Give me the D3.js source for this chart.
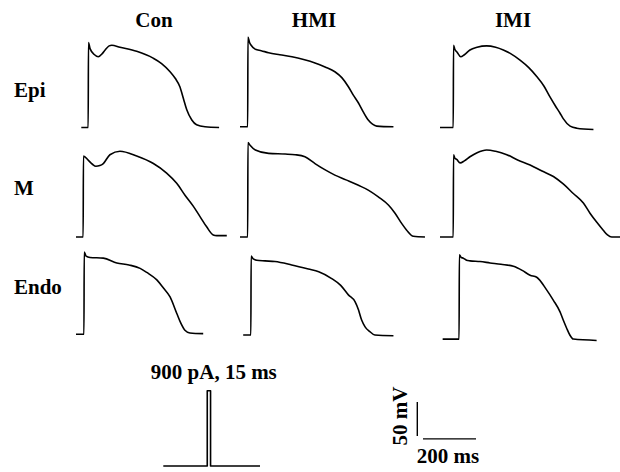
<!DOCTYPE html>
<html>
<head>
<meta charset="utf-8">
<script src="https://cdn.jsdelivr.net/npm/d3@7"></script>
<style>
  body { margin: 0; background: #fff; }
  svg { display: block; }
  text { font-family: "Liberation Serif", "DejaVu Serif", serif; font-weight: bold; font-size: 21px; fill: #000; }
  .trace { fill: none; stroke: #000; stroke-width: 1.6; stroke-linejoin: round; }
</style>
</head>
<body>
<svg id="chart" width="620" height="472"></svg>
<script>
// groups and cell layers
var groups = ["Con", "HMI", "IMI"];
var layers = ["Epi", "M", "Endo"];

// action potentials, [time ms, voltage mV]
var conEpi = [[20,-85],[46,-85],[47,40],[53,31],[70,22],[84,19],[100,24],[110,29],[125,35],[135,36],[166,33],[229,27],[291,17],[323,9],[355,-3],[375,-13],[392,-25],[405,-42],[418,-59],[437,-74],[455,-81],[487,-84],[540,-85]];
var conM = [[0,-85],[27,-85],[28,34],[46,28],[62,22],[75,19],[90,20],[103,23],[128,36],[166,41],[229,34],[292,23],[342,9],[380,-6],[412,-24],[443,-40],[468,-55],[493,-70],[518,-82],[531,-83],[569,-83]];
var conEndo = [[0,-84],[30,-84],[31,37],[38,31],[53,29],[103,28],[154,21],[200,18],[242,13],[267,7],[305,-4],[330,-16],[355,-29],[380,-53],[396,-68],[411,-78],[430,-82],[480,-83]];

var hmiEpi = [[0,-84],[29,-84],[30,48],[36,40],[42,36],[58,30],[80,28],[108,25],[150,22],[196,19],[240,15],[283,10],[321,4],[358,-3],[385,-12],[409,-25],[427,-37],[447,-49],[465,-62],[484,-74],[500,-80],[516,-83],[579,-84]];
var hmiM = [[0,-85],[29,-85],[30,54],[38,50],[58,43],[108,38],[170,37],[208,36],[245,33],[283,23],[320,14],[358,6],[400,-1],[447,-9],[484,-16],[522,-26],[560,-38],[585,-50],[610,-65],[629,-75],[654,-84],[698,-85]];
var hmiEndo = [[12,-85],[41,-85],[42,31],[50,27],[63,25],[94,24],[132,23],[195,18],[258,12],[297,8],[346,-2],[380,-12],[409,-26],[434,-36],[447,-48],[459,-63],[472,-73],[490,-80],[509,-85],[579,-86]];

var imiEpi = [[0,-85],[50,-85],[51,36],[56,30],[64,26],[78,19],[92,22],[113,29],[140,33],[176,35],[210,33],[239,29],[265,24],[302,14],[335,3],[365,-10],[392,-24],[415,-40],[435,-53],[453,-64],[465,-72],[491,-83],[516,-86],[579,-88]];
var imiM = [[0,-85],[50,-85],[51,36],[56,31],[63,29],[76,24],[92,27],[113,33],[140,39],[176,43],[210,41],[252,36],[295,28],[340,21],[385,12],[428,4],[465,-7],[503,-21],[541,-35],[566,-50],[591,-63],[616,-75],[632,-82],[648,-85],[680,-85]];
var imiEndo = [[10,-91],[72,-91],[73,33],[80,29],[88,28],[100,25],[113,24],[151,23],[189,21],[230,19],[277,16],[310,10],[340,3],[365,0],[403,-19],[428,-34],[453,-51],[465,-63],[478,-75],[490,-85],[503,-91],[591,-93]];

var traces = [
  [conEpi, hmiEpi, imiEpi],
  [conM, hmiM, imiM],
  [conEndo, hmiEndo, imiEndo]
];

// stimulus pulse
var stimLabel = "900 pA, 15 ms";
var stimTime = [0, 200, 200, 215, 215, 440];
var stimCurrent = [0, 0, 900, 900, 0, 0];

// scale bars
var barMs = 200;
var barMv = 50;

var svg = d3.select("#chart");

var colX = [76, 240, 440];
var rowY = [127.5, 237, 335];
var pxPerMs = 0.265, pxPerMv = 0.68;

var smooth = d3.line().curve(d3.curveMonotoneX);

groups.forEach(function(g, c){
    var x = d3.scaleLinear().domain([0, 700]).range([colX[c], colX[c] + 700 * pxPerMs]);
    svg.append("text")
        .attr("x", [154, 314, 513][c])
        .attr("y", 26.7)
        .attr("text-anchor", "middle")
        .text(g);

    layers.forEach(function(l, r){
        var y = d3.scaleLinear().domain([-85, 50]).range([rowY[r], rowY[r] - 135 * pxPerMv]);
        svg.append("path")
            .attr("class", "trace")
            .attr("d", smooth(traces[r][c].map(function(d){ return [x(d[0]), y(d[1])]; })));
    });
});

layers.forEach(function(l, r){
    svg.append("text")
        .attr("x", 14)
        .attr("y", [96.7, 195, 294][r])
        .text(l);
});

// stimulus
var sx = d3.scaleLinear().domain([0, 440]).range([163.3, 260]);
var sy = d3.scaleLinear().domain([0, 900]).range([466, 390.7]);
svg.append("path")
    .attr("class", "trace")
    .attr("stroke-width", 1.3)
    .attr("d", d3.line()(stimTime.map(function(t, i){ return [sx(t), sy(stimCurrent[i])]; })));
svg.append("text")
    .attr("x", 213.8)
    .attr("y", 379.3)
    .attr("text-anchor", "middle")
    .text(stimLabel);

// scale bars
var bx = d3.scaleLinear().domain([0, barMs]).range([423, 423 + barMs * pxPerMs]);
var by = d3.scaleLinear().domain([0, barMv]).range([436, 436 - barMv * pxPerMv]);
svg.append("line")
    .attr("x1", 417.3).attr("x2", 417.3)
    .attr("y1", by(0)).attr("y2", by(barMv))
    .attr("stroke", "#000").attr("stroke-width", 1.4);
svg.append("line")
    .attr("x1", bx(0)).attr("x2", bx(barMs))
    .attr("y1", 438.8).attr("y2", 438.8)
    .attr("stroke", "#000").attr("stroke-width", 1.2);
svg.append("text")
    .attr("transform", "translate(406.5,416) rotate(-90)")
    .attr("text-anchor", "middle")
    .text(barMv + " mV");
svg.append("text")
    .attr("x", 448)
    .attr("y", 463)
    .attr("text-anchor", "middle")
    .text(barMs + " ms");
</script>
</body>
</html>
